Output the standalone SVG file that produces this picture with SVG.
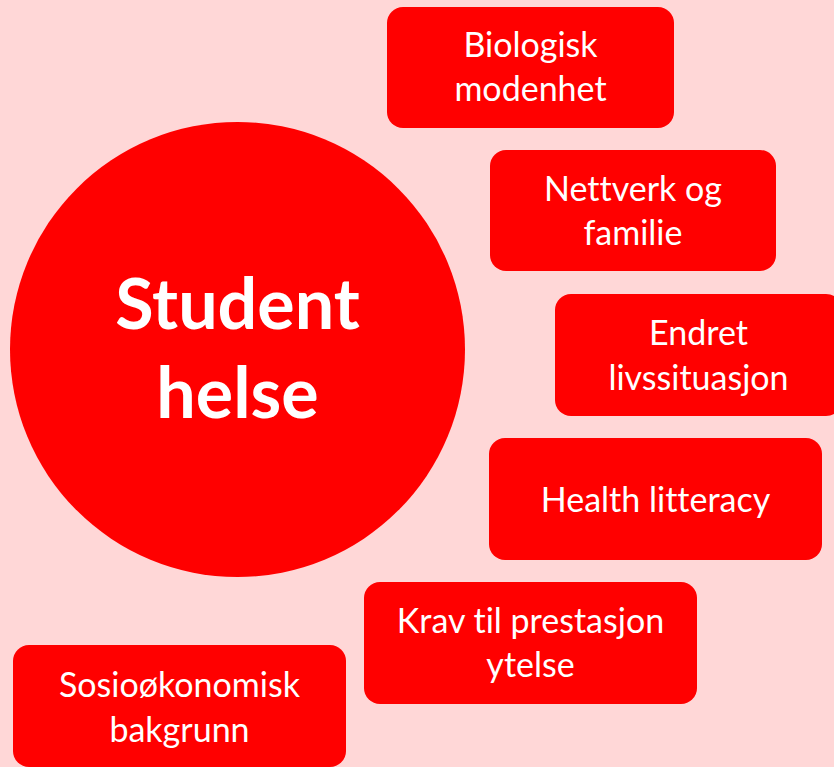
<svg xmlns="http://www.w3.org/2000/svg" width="834" height="767" viewBox="0 0 834 767">
<style>
.bg{fill:#FFD7D7}
.box{fill:#FF0000}
.t{fill:#FFFFFF;font-family:Lato,"Open Sans","Liberation Sans",sans-serif;font-size:34px;text-anchor:middle;font-variant-ligatures:none;font-feature-settings:"liga" 0,"dlig" 0}
.big{fill:#FFFFFF;font-family:Lato,"Open Sans","Liberation Sans",sans-serif;font-size:70px;font-weight:bold;text-anchor:middle;font-variant-ligatures:none}
</style>
<rect class="bg" x="0" y="0" width="834" height="767"/>
<g id="connectors"></g>
<g id="center">
<circle class="box" cx="237.5" cy="349.5" r="227.5"/>
<text class="big" x="237.5" y="329">Student</text>
<text class="big" x="237.5" y="418">helse</text>
</g>
<g id="biologisk">
<rect class="box" x="387" y="7" width="287" height="121" rx="16"/>
<text class="t" x="530.5" y="57">Biologisk</text>
<text class="t" x="530.5" y="101">modenhet</text>
</g>
<g id="nettverk">
<rect class="box" x="490" y="150" width="286" height="121" rx="16"/>
<text class="t" x="633" y="201">Nettverk og</text>
<text class="t" x="633" y="245">familie</text>
</g>
<g id="endret">
<rect class="box" x="555" y="294" width="287" height="122" rx="16"/>
<text class="t" x="698.5" y="345">Endret</text>
<text class="t" x="698.5" y="390">livssituasjon</text>
</g>
<g id="health">
<rect class="box" x="489" y="438" width="333" height="122" rx="16"/>
<text class="t" x="655.5" y="512">Health litteracy</text>
</g>
<g id="krav">
<rect class="box" x="364" y="582" width="333" height="122" rx="16"/>
<text class="t" x="530.5" y="633">Krav til prestasjon</text>
<text class="t" x="530.5" y="677">ytelse</text>
</g>
<g id="sosio">
<rect class="box" x="13" y="645" width="333" height="122" rx="16"/>
<text class="t" x="179.5" y="697">Sosioøkonomisk</text>
<text class="t" x="179.5" y="742">bakgrunn</text>
</g>
</svg>
